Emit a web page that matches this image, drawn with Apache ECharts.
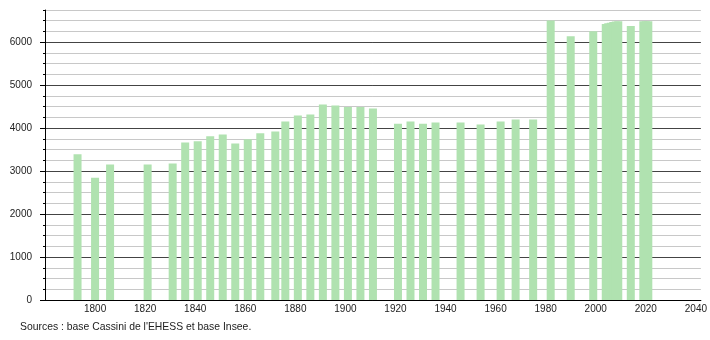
<!DOCTYPE html>
<html>
<head>
<meta charset="utf-8">
<script src="https://cdn.jsdelivr.net/npm/echarts@6/dist/echarts.min.js"></script>
<style>
html,body{margin:0;padding:0;background:#fff;}
#chart{width:710px;height:340px;}
</style>
</head>
<body>
<div id="chart"></div>
<script>
const years = [1793,1800,1806,1821,1831,1836,1841,1846,1851,1856,1861,1866,1872,1876,1881,1886,1891,1896,1901,1906,1911,1921,1926,1931,1936,1946,1954,1962,1968,1975,1982,1990,1999,2004,2005,2006,2007,2008,2009,2014,2019,2020,2021];
const population = [3390,2845,3155,3155,3180,3665,3695,3810,3855,3645,3740,3880,3920,4155,4295,4315,4550,4530,4495,4495,4460,4105,4155,4105,4130,4130,4085,4155,4200,4200,6505,6140,6255,6425,6440,6455,6470,6480,6490,6375,6490,6490,6490];
const xTickLabels = [1800,1820,1840,1860,1880,1900,1920,1940,1960,1980,2000,2020,2040];
const yTickLabels = [0,1000,2000,3000,4000,5000,6000];
const sourceText = "Sources : base Cassini de l'EHESS et base Insee.";

const FONT = '"Liberation Sans", Arial, sans-serif';
const chart = echarts.init(document.getElementById('chart'), null, {renderer: 'canvas'});
const barData = years.map((y, i) => [y, population[i]]);

chart.setOption({
  animation: false,
  backgroundColor: '#fff',
  grid: {left: 45, right: 9, top: 10, bottom: 40, containLabel: false},
  xAxis: {
    type: 'value', min: 1780, max: 2042, interval: 20,
    axisLine: {show: true, lineStyle: {color: '#000', width: 1}},
    axisTick: {show: false},
    splitLine: {show: false},
    axisLabel: {customValues: xTickLabels, color: '#222', fontSize: 10, fontFamily: FONT, margin: 4,
      formatter: v => String(v)}
  },
  yAxis: [{
    type: 'value', min: 0, max: 6750, interval: 250, position: 'left',
    axisLine: {show: true, onZero: false, lineStyle: {color: '#000', width: 1}},
    axisTick: {show: true, length: 2, lineStyle: {color: '#000'}},
    axisLabel: {show: false},
    splitLine: {show: true, lineStyle: {color: ['#444', '#c8c8c8', '#c8c8c8', '#c8c8c8'], width: 1}}
  }, {
    type: 'value', min: 0, max: 6750, interval: 250, position: 'left', offset: 0,
    axisLine: {show: false},
    axisTick: {show: true, length: 5, customValues: yTickLabels, lineStyle: {color: '#000'}},
    axisLabel: {customValues: yTickLabels, color: '#222', fontSize: 10, fontFamily: FONT, margin: 13,
      formatter: v => String(v)},
    splitLine: {show: false}
  }],
  graphic: [{
    type: 'text', left: 20, top: 322,
    style: {text: sourceText, fill: '#222', font: '10.4px ' + FONT}
  }],
  series: [{
    type: 'bar', xAxisIndex: 0, yAxisIndex: 0,
    data: barData, barWidth: 8,
    itemStyle: {color: '#b0e2b0'},
    z: 1
  }]
});
</script>
</body>
</html>
